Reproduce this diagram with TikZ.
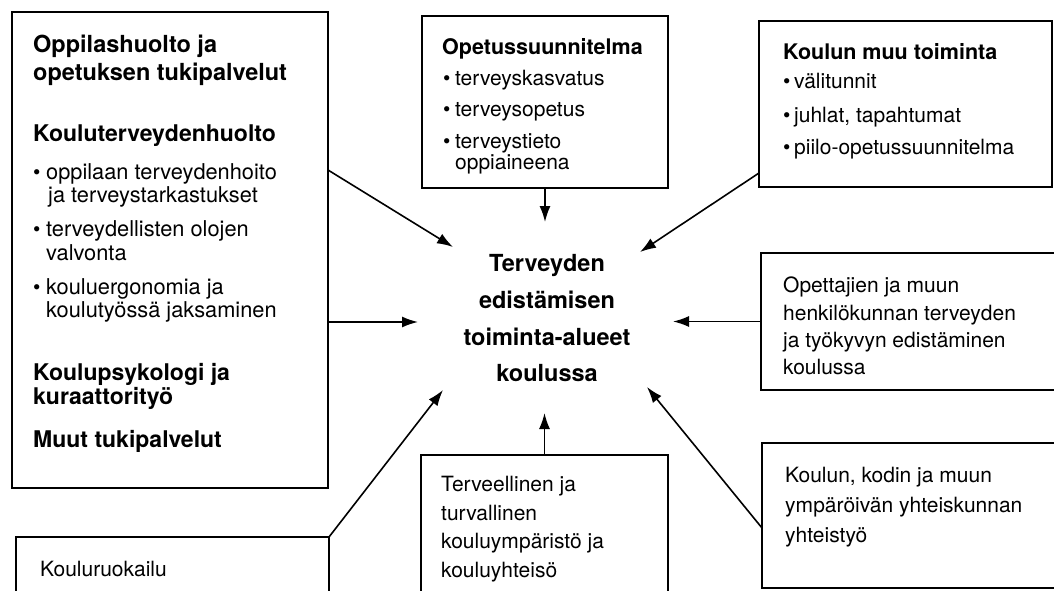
\documentclass[tikz,border=0pt]{standalone}
\usepackage{fontspec}
\setmainfont{TeX Gyre Heros}
\usetikzlibrary{arrows.meta}
\tikzset{
  box/.style={draw, line width=1.8pt, anchor=north west, inner sep=0pt, outer sep=0pt},
  body/.style={anchor=base west, inner sep=0pt, font=\fontsize{21}{25}\selectfont},
  lbody/.style={anchor=base west, inner sep=0pt, font=\fontsize{21.8}{25}\selectfont},
  sub/.style={anchor=base west, inner sep=0pt, font=\fontsize{21.5}{25}\selectfont\bfseries},
  lsub/.style={anchor=base west, inner sep=0pt, font=\fontsize{23}{27}\selectfont\bfseries},
  big/.style={anchor=base west, inner sep=0pt, font=\fontsize{23.5}{28}\selectfont\bfseries},
  ctr/.style={anchor=base, inner sep=0pt, font=\fontsize{23.5}{28}\selectfont\bfseries},
  bul/.style={anchor=base west, inner sep=0pt, font=\fontsize{21}{25}\selectfont},
  arr/.style={line width=1.6pt, -{Latex[length=16pt,width=11pt]}},
}
\begin{document}
\begin{tikzpicture}[x=1pt,y=-1pt]
\useasboundingbox (0,0) rectangle (1054,591);
\fill[white] (0,0) rectangle (1054,591);
\clip (0,0) rectangle (1054,591);

% boxes
\node[box, minimum width=316pt, minimum height=476pt] (leftbox) at (12,12) {};
\node[box, minimum width=313pt, minimum height=80pt] (ruobox) at (16,537) {};
\node[box, minimum width=246pt, minimum height=172pt] (opsbox) at (422,16) {};
\node[box, minimum width=293pt, minimum height=166pt] (muubox) at (759,21) {};
\node[box, minimum width=320pt, minimum height=137pt] (opebox) at (761,253) {};
\node[box, minimum width=320pt, minimum height=145pt] (kodbox) at (762,443) {};
\node[box, minimum width=247pt, minimum height=170pt] (terbox) at (421,455) {};

% left box text
\node[big] (l1) at (33,53) {Oppilashuolto ja};
\node[big] (l2) at (33,81) {opetuksen tukipalvelut};
\node[lsub] (l3) at (33,142) {Kouluterveydenhuolto};
\node[bul] (l4b) at (33,179) {•};
\node[lbody] (l4) at (46,179) {oppilaan terveydenhoito};
\node[lbody] (l5) at (48,202) {ja terveystarkastukset};
\node[bul] (l6b) at (33,236) {•};
\node[lbody] (l6) at (46,236) {terveydellisten olojen};
\node[lbody] (l7) at (46,260) {valvonta};
\node[bul] (l8b) at (33,294) {•};
\node[lbody] (l8) at (46,294) {kouluergonomia ja};
\node[lbody] (l9) at (46,317) {koulutyössä jaksaminen};
\node[lsub] (l10) at (33,380) {Koulupsykologi ja};
\node[lsub] (l11) at (33,404) {kuraattorityö};
\node[lsub] (l12) at (33,447) {Muut tukipalvelut};

% kouluruokailu
\node[body] (r1) at (40,576) {Kouluruokailu};

% opetussuunnitelma
\node[sub] (o1) at (442,55) {Opetussuunnitelma};
\node[bul] (o2b) at (443,86) {•};
\node[body] (o2) at (455,86) {terveyskasvatus};
\node[bul] (o3b) at (443,117) {•};
\node[body] (o3) at (455,117) {terveysopetus};
\node[bul] (o4b) at (443,148) {•};
\node[body] (o4) at (455,148) {terveystieto};
\node[body] (o5) at (455,169) {oppiaineena};

% koulun muu toiminta
\node[sub] (m1) at (783,60) {Koulun muu toiminta};
\node[bul] (m2b) at (783,89) {•};
\node[body] (m2) at (794,89) {välitunnit};
\node[bul] (m3b) at (783,122) {•};
\node[body] (m3) at (794,122) {juhlat, tapahtumat};
\node[bul] (m4b) at (783,154) {•};
\node[body] (m4) at (794,154) {piilo-opetussuunnitelma};

% opettajien
\node[body] (p1) at (783,292) {Opettajien ja muun};
\node[body] (p2) at (783,320) {henkilökunnan terveyden};
\node[body] (p3) at (783,347) {ja työkyvyn edistäminen};
\node[body] (p4) at (783,374) {koulussa};

% koulun, kodin
\node[body] (k1) at (785,482) {Koulun, kodin ja muun};
\node[body] (k2) at (785,512) {ympäröivän yhteiskunnan};
\node[body] (k3) at (785,542) {yhteistyö};

% terveellinen
\node[body] (e1) at (441,491) {Terveellinen ja};
\node[body] (e2) at (441,520) {turvallinen};
\node[body] (e3) at (441,548) {kouluympäristö ja};
\node[body] (e4) at (441,577) {kouluyhteisö};

% center
\node[ctr] (c1) at (547,271) {Terveyden};
\node[ctr] (c2) at (547,308) {edistämisen};
\node[ctr] (c3) at (547,345) {toiminta-alueet};
\node[ctr] (c4) at (547,381) {koulussa};

% arrow tips
\coordinate (t1) at (453,247);
\coordinate (t2) at (418,322);
\coordinate (t3) at (443,390);
\coordinate (t4) at (545,222);
\coordinate (t5) at (544.5,413);
\coordinate (t6) at (640,252);
\coordinate (t7) at (673,321.5);
\coordinate (t8) at (647,387);

\draw[arr] ([yshift=80pt]leftbox.east) -- (t1);
\draw[arr] ([yshift=-72pt]leftbox.east) -- (t2);
\draw[arr] (ruobox.north east) -- (t3);
\draw[arr] (opsbox.south) -- (t4);
\draw[arr] (terbox.north) -- (t5);
\draw[arr] ([yshift=-69pt]muubox.west) -- (t6);
\draw[arr] (opebox.west) -- (t7);
\draw[arr] ([yshift=-12.5pt]kodbox.west) -- (t8);
\end{tikzpicture}
\end{document}
